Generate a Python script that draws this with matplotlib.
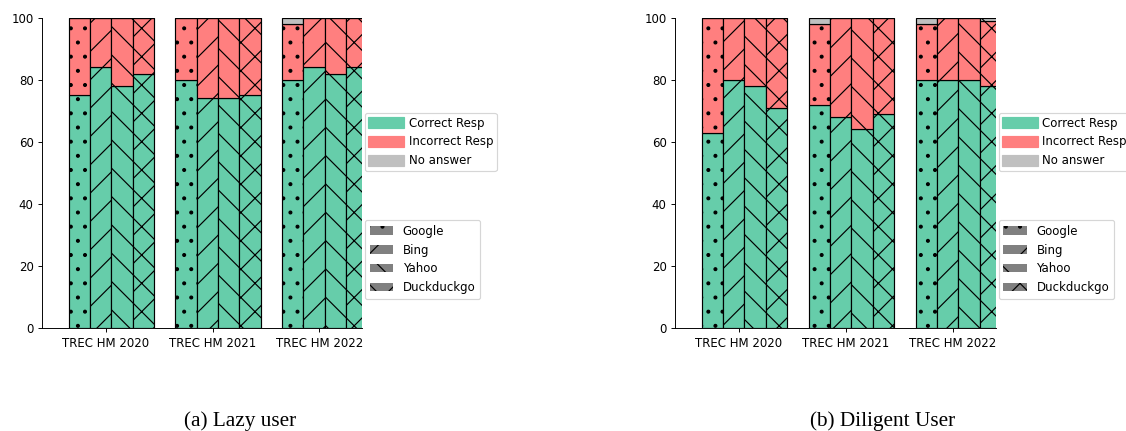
import matplotlib.pyplot as plt
import matplotlib.patches as mpatches
import numpy as np

years = ['TREC HM 2020', 'TREC HM 2021', 'TREC HM 2022']
engines = ['Google', 'Bing', 'Yahoo', 'Duckduckgo']
hatches = ['.', '/', '\\', 'x']

# percentages per year (rows) and engine (columns)
lazy_correct = [[75, 84, 78, 82], [80, 74, 74, 75], [80, 84, 82, 84]]
lazy_incorrect = [[25, 16, 22, 18], [20, 26, 26, 25], [18, 16, 18, 16]]
lazy_noans = [[0, 0, 0, 0], [0, 0, 0, 0], [2, 0, 0, 0]]

diligent_correct = [[63, 80, 78, 71], [72, 68, 64, 69], [80, 80, 80, 78]]
diligent_incorrect = [[37, 20, 22, 29], [26, 32, 36, 31], [18, 20, 20, 21]]
diligent_noans = [[0, 0, 0, 0], [2, 0, 0, 0], [2, 0, 0, 1]]

c_correct = '#66cdaa'
c_incorrect = '#ff7f7f'
c_noans = '#c0c0c0'

width = 0.2
offsets = [-0.25, -0.05, 0.15, 0.35]

fig = plt.figure(figsize=(1126 / 85, 431 / 85), dpi=85)
ax1 = fig.add_axes([0.0373, 0.2383, 0.2842, 0.7207])
ax2 = fig.add_axes([0.5993, 0.2383, 0.2851, 0.7207])


def draw(ax, correct, incorrect, noans):
    x = np.arange(len(years))
    correct = np.array(correct)
    incorrect = np.array(incorrect)
    noans = np.array(noans)
    for j in range(len(engines)):
        pos = x + offsets[j]
        ax.bar(pos, correct[:, j], width, color=c_correct, edgecolor='black',
               hatch=hatches[j], linewidth=1)
        ax.bar(pos, incorrect[:, j], width, bottom=correct[:, j], color=c_incorrect,
               edgecolor='black', hatch=hatches[j], linewidth=1)
        ax.bar(pos, noans[:, j], width, bottom=correct[:, j] + incorrect[:, j],
               color=c_noans, edgecolor='black', hatch=hatches[j], linewidth=1)
    ax.set_xticks(x)
    ax.set_xticklabels(years)
    ax.set_xlim(-0.6, 2.4)
    ax.set_ylim(0, 100)
    ax.spines['top'].set_visible(False)
    ax.spines['right'].set_visible(False)

    color_handles = [mpatches.Patch(color=c_correct, label='Correct Resp'),
                     mpatches.Patch(color=c_incorrect, label='Incorrect Resp'),
                     mpatches.Patch(color=c_noans, label='No answer')]
    leg1 = ax.legend(handles=color_handles, loc='upper left', bbox_to_anchor=(1.009, 0.693),
                     borderaxespad=0, borderpad=0.3, handlelength=3, handleheight=1,
                     handletextpad=0.4)
    ax.add_artist(leg1)
    hatch_handles = [mpatches.Patch(facecolor='grey', edgecolor='black', linewidth=0,
                                    hatch=h, label=e)
                     for h, e in zip(hatches, engines)]
    ax.legend(handles=hatch_handles, loc='upper left', bbox_to_anchor=(1.009, 0.349),
              borderaxespad=0)


draw(ax1, lazy_correct, lazy_incorrect, lazy_noans)
draw(ax2, diligent_correct, diligent_incorrect, diligent_noans)

fig.text(0.2136, 0.012, '(a) Lazy user', ha='center', va='baseline',
         family='Liberation Serif', fontsize=18)
fig.text(0.784, 0.012, '(b) Diligent User', ha='center', va='baseline',
         family='Liberation Serif', fontsize=18)

fig.savefig('out.png', dpi=85)
